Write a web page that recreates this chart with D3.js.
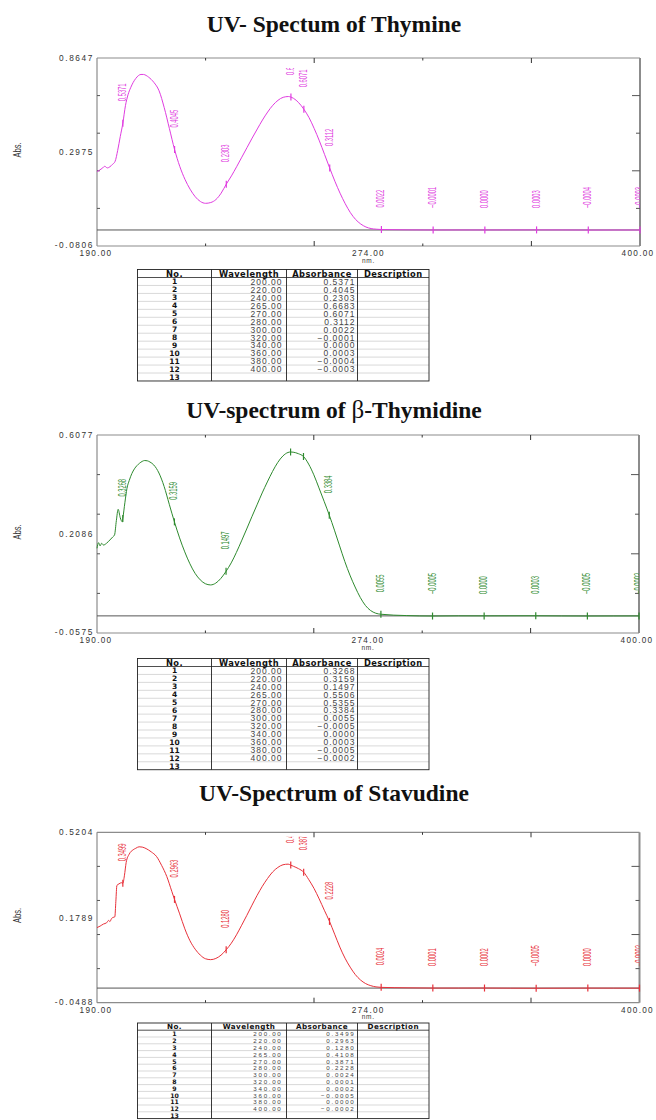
<!DOCTYPE html>
<html><head><meta charset="utf-8">
<script src="https://cdn.jsdelivr.net/npm/d3@7"></script>
<style>body{margin:0;background:#fff} svg{display:block}</style>
</head><body>
<svg id="c" width="656" height="1120"></svg>
<script>
// ---------- data ----------
const titles = ["UV- Spectum of Thymine", "UV-spectrum of ", "UV-Spectrum of Stavudine"];
const wavelengths = [200, 220, 240, 265, 270, 280, 300, 320, 340, 360, 380, 400];
const thymineAbs   = [0.5371, 0.4045, 0.2303, 0.6683, 0.6071, 0.3112, 0.0022, -0.0001, 0.0000, 0.0003, -0.0004, -0.0003];
const thymidineAbs = [0.3268, 0.3159, 0.1497, 0.5506, 0.5355, 0.3384, 0.0055, -0.0005, 0.0000, 0.0003, -0.0005, -0.0002];
const stavudineAbs = [0.3499, 0.2963, 0.1280, 0.4108, 0.3871, 0.2228, 0.0024, 0.0001, 0.0002, -0.0005, 0.0000, -0.0002];

const thymineSpectrum = [[190,0.293],[191,0.301],[192,0.31],[193,0.32],[194,0.312],[195,0.318],[196,0.33],[197,0.345],[198,0.40],[199,0.47],[200,0.5371],[201,0.625],[202,0.68],[203,0.715],[204,0.742],[205,0.762],[206,0.776],[207,0.782],[208,0.782],[209,0.777],[210,0.768],[212,0.742],[214,0.70],[216,0.615],[218,0.51],[220,0.4045],[222,0.32],[224,0.255],[226,0.205],[228,0.167],[230,0.143],[232,0.134],[234,0.138],[236,0.153],[238,0.185],[240,0.2303],[242,0.272],[244,0.318],[246,0.366],[248,0.414],[250,0.462],[252,0.508],[254,0.553],[256,0.593],[258,0.627],[260,0.652],[262,0.667],[264,0.671],[265,0.6683],[266,0.662],[268,0.64],[270,0.6071],[272,0.565],[274,0.51],[276,0.448],[278,0.38],[280,0.3112],[282,0.245],[284,0.185],[286,0.132],[288,0.087],[290,0.053],[292,0.03],[294,0.015],[296,0.007],[298,0.004],[300,0.0022],[310,0.0006],[320,-0.0001],[330,0.0001],[340,0.0],[350,0.0002],[360,0.0003],[370,0.0001],[380,-0.0004],[390,-0.0002],[400,-0.0003]];
const thymidineSpectrum = [[190,0.227],[190.6,0.246],[191.2,0.235],[191.8,0.244],[192.5,0.238],[193.7,0.244],[195,0.255],[196.2,0.266],[196.8,0.272],[197.5,0.32],[198.2,0.358],[199,0.33],[199.8,0.316],[200,0.3268],[200.8,0.38],[201.6,0.428],[202.5,0.455],[203.5,0.478],[204.5,0.494],[205.5,0.505],[206.5,0.513],[207.5,0.519],[208.5,0.522],[209.5,0.521],[210.5,0.517],[212,0.507],[214,0.48],[216,0.435],[218,0.375],[220,0.3159],[222,0.262],[224,0.215],[226,0.175],[228,0.143],[230,0.121],[232,0.108],[234,0.104],[236,0.11],[238,0.126],[240,0.1497],[242,0.178],[244,0.213],[246,0.252],[248,0.292],[250,0.333],[252,0.373],[254,0.413],[256,0.45],[258,0.485],[260,0.515],[262,0.537],[264,0.549],[265,0.5506],[266,0.55],[268,0.545],[270,0.5355],[272,0.51],[274,0.474],[276,0.43],[278,0.385],[280,0.3384],[282,0.288],[284,0.235],[286,0.183],[288,0.137],[290,0.097],[292,0.062],[294,0.035],[296,0.018],[298,0.009],[300,0.0055],[310,0.001],[320,-0.0005],[330,0.0001],[340,0.0],[350,0.0002],[360,0.0003],[370,-0.0002],[380,-0.0005],[390,-0.0003],[400,-0.0002]];
const stavudineSpectrum = [[190,0.202],[191.2,0.207],[192.5,0.214],[193.7,0.218],[194.5,0.226],[195,0.222],[195.6,0.232],[196.2,0.236],[196.9,0.238],[197.3,0.29],[197.7,0.343],[198.5,0.348],[199.4,0.352],[200,0.3499],[200.6,0.375],[201.3,0.42],[202.5,0.448],[204,0.462],[205,0.467],[206.3,0.472],[207.5,0.471],[209,0.466],[211,0.455],[213,0.44],[215,0.41],[217,0.373],[219,0.322],[220,0.2963],[222,0.248],[224,0.198],[226,0.158],[228,0.13],[230,0.11],[232,0.098],[234,0.095],[236,0.099],[238,0.11],[240,0.128],[242,0.15],[244,0.178],[246,0.21],[248,0.243],[250,0.277],[252,0.31],[254,0.34],[256,0.366],[258,0.388],[260,0.403],[262,0.412],[264,0.414],[265,0.4108],[266,0.407],[268,0.399],[270,0.3871],[272,0.362],[274,0.333],[276,0.298],[278,0.26],[280,0.2228],[282,0.18],[284,0.137],[286,0.1],[288,0.07],[290,0.045],[292,0.027],[294,0.015],[296,0.008],[298,0.004],[300,0.0024],[310,0.0009],[320,0.0001],[330,0.0001],[340,0.0002],[350,-0.0002],[360,-0.0005],[370,-0.0002],[380,0.0],[390,-0.0001],[400,-0.0002]];

const xDomain = [190, 400];
const xTickLabels = ["190.00", "274.00", "400.00"];
const xUnit = "nm.";
const yTitle = "Abs.";
const thymineYDomain = [-0.0806, 0.8647];
const thymidineYDomain = [-0.0575, 0.6077];
const stavudineYDomain = [-0.0488, 0.5204];
const thymineYLabels = ["0.8647", "0.2975", "-0.0806"];
const thymidineYLabels = ["0.6077", "0.2086", "-0.0575"];
const stavudineYLabels = ["0.5204", "0.1789", "-0.0488"];
const tableHeaders = ["No.", "Wavelength", "Absorbance", "Description"];

// ---------- layout ----------
const panels = [
  {title: titles[0], titleY: 32, top: 58, bottom: 246, left: 97, right: 640, color: "#e03ce0", clipTop: 10,
   spectrum: thymineSpectrum, abs: thymineAbs, yDomain: thymineYDomain, yLabels: thymineYLabels,
   tableTop: 269.5, headH: 8, rowH: 7.96, tFont: 8.5, ls: 1},
  {title: titles[1], beta: true, titleY: 418, top: 435, bottom: 633, left: 97, right: 639, color: "#2e8a2e", clipTop: 9,
   spectrum: thymidineSpectrum, abs: thymidineAbs, yDomain: thymidineYDomain, yLabels: thymidineYLabels,
   tableTop: 658.5, headH: 8, rowH: 7.94, tFont: 8.5, ls: 1},
  {title: titles[2], titleY: 801, top: 832.3, bottom: 1002.7, left: 97, right: 639.5, color: "#e8313a", clipTop: 4.5,
   spectrum: stavudineSpectrum, abs: stavudineAbs, yDomain: stavudineYDomain, yLabels: stavudineYLabels,
   tableTop: 1023, headH: 7.2, rowH: 6.8, tFont: 6.2, ls: 1.7}
];
const tableCols = [137.5, 211.5, 286.5, 357.5, 429];

const svg = d3.select("#c");
const fmt = d3.format(".4f");

panels.forEach((p, pi) => {
  const g = svg.append("g");
  const x = d3.scaleLinear().domain(xDomain).range([p.left, p.right]);
  const y = d3.scaleLinear().domain(p.yDomain).range([p.bottom, p.top]);

  // title
  const t = g.append("text").attr("x", 334).attr("y", p.titleY).attr("text-anchor", "middle")
    .attr("font-family", "Liberation Serif, Times New Roman, serif").attr("font-weight", "bold")
    .attr("font-size", 23.5).attr("fill", "#111");
  t.append("tspan").text(p.title);
  if (p.beta) {
    t.append("tspan").attr("font-weight", "normal").attr("font-size", 25).text("β");
    t.append("tspan").text("-Thymidine");
  }

  // frame
  const frame = "#8c8c8c";
  g.append("line").attr("x1", p.left).attr("x2", p.right).attr("y1", p.top).attr("y2", p.top).attr("stroke", frame).attr("stroke-width", 1.2);
  g.append("line").attr("x1", p.left).attr("x2", p.right).attr("y1", p.bottom).attr("y2", p.bottom).attr("stroke", frame).attr("stroke-width", 1.2);
  g.append("line").attr("x1", p.left).attr("x2", p.left).attr("y1", p.top).attr("y2", p.bottom).attr("stroke", frame).attr("stroke-width", 1.2);
  g.append("line").attr("x1", p.right).attr("x2", p.right).attr("y1", p.top).attr("y2", p.bottom).attr("stroke", frame).attr("stroke-width", 2);

  // ticks
  const step = (xDomain[1] - xDomain[0]) / 5;
  const xTicks = d3.range(1, 5).map(k => xDomain[0] + k * step);
  xTicks.forEach((v, i) => {
    const L = i % 2 ? 5 : 2.5;
    g.append("line").attr("x1", x(v)).attr("x2", x(v)).attr("y1", p.top).attr("y2", p.top + L).attr("stroke", "#333").attr("stroke-width", 1);
    g.append("line").attr("x1", x(v)).attr("x2", x(v)).attr("y1", p.bottom).attr("y2", p.bottom - L).attr("stroke", "#333").attr("stroke-width", 1);
  });
  const ystep = (p.yDomain[1] - p.yDomain[0]) / 5;
  const yTicks = d3.range(1, 5).map(k => p.yDomain[0] + k * ystep);
  yTicks.forEach((v, i) => {
    g.append("line").attr("x1", p.left).attr("x2", p.left + 3).attr("y1", y(v)).attr("y2", y(v)).attr("stroke", "#555");
    const L = i % 2 ? 8 : 4;
    g.append("line").attr("x1", p.right).attr("x2", p.right - L).attr("y1", y(v)).attr("y2", y(v)).attr("stroke", "#555");
  });

  // zero line
  g.append("line").attr("x1", p.left).attr("x2", p.right).attr("y1", y(0)).attr("y2", y(0)).attr("stroke", "#555").attr("stroke-width", 1);

  // spectrum
  const line = d3.line().x(d => x(d[0])).y(d => y(d[1])).curve(d3.curveMonotoneX);
  g.append("path").datum(p.spectrum).attr("d", line).attr("fill", "none").attr("stroke", p.color).attr("stroke-width", 1);

  // markers
  wavelengths.forEach((w, i) => {
    g.append("line").attr("x1", x(w)).attr("x2", x(w)).attr("y1", y(p.abs[i]) - 3.5).attr("y2", y(p.abs[i]) + 3.5)
      .attr("stroke", p.color).attr("stroke-width", 1.2);
  });

  // value labels (clipped)
  const cid = "clip" + pi;
  svg.append("clipPath").attr("id", cid).append("rect")
    .attr("x", p.left).attr("y", p.top + p.clipTop).attr("width", p.right - p.left).attr("height", p.bottom - p.top - p.clipTop);
  const lg = g.append("g").attr("clip-path", `url(#${cid})`);
  wavelengths.forEach((w, i) => {
    lg.append("text").attr("transform", `translate(${x(w)},${y(p.abs[i]) - 22}) rotate(-90) scale(0.58,1)`)
      .attr("text-anchor", "start").attr("dominant-baseline", "central")
      .attr("font-family", "Liberation Sans, Arial, sans-serif").attr("font-size", 10)
      .attr("fill", p.color).text(fmt(p.abs[i]));
  });

  // y labels
  const yPos = [p.top, (p.top + p.bottom) / 2, p.bottom - 1.2];
  p.yLabels.forEach((s, i) => {
    g.append("text").attr("x", p.left - 3).attr("y", yPos[i]).attr("text-anchor", "end").attr("dominant-baseline", "central")
      .attr("font-family", "Liberation Sans, Arial, sans-serif").attr("font-size", 8.3).attr("letter-spacing", 1.6)
      .attr("fill", "#333").text(s);
  });
  // x labels
  const xPos = [p.left - 1, (p.left + p.right) / 2, p.right - 2];
  xTickLabels.forEach((s, i) => {
    g.append("text").attr("x", xPos[i]).attr("y", p.bottom + 7.6).attr("text-anchor", "middle").attr("dominant-baseline", "central")
      .attr("font-family", "Liberation Sans, Arial, sans-serif").attr("font-size", 8.2).attr("letter-spacing", 1.3)
      .attr("fill", "#333").text(s);
  });
  g.append("text").attr("x", xPos[1]).attr("y", p.bottom + 14.2).attr("text-anchor", "middle").attr("dominant-baseline", "central")
    .attr("font-family", "Liberation Sans, Arial, sans-serif").attr("font-size", 6.5).attr("letter-spacing", 0.8)
    .attr("fill", "#333").text(xUnit);
  // y title
  g.append("text").attr("transform", `translate(17.5,${(p.top + p.bottom) / 2 - 2}) rotate(-90) scale(0.72,1)`)
    .attr("text-anchor", "middle").attr("dominant-baseline", "central")
    .attr("font-family", "Liberation Sans, Arial, sans-serif").attr("font-size", 10.5).attr("fill", "#333").text(yTitle);

  // table
  const tg = svg.append("g");
  const nRows = wavelengths.length + 1;
  const tTop = p.tableTop, tBot = tTop + p.headH + nRows * p.rowH;
  const rowY = r => tTop + p.headH + r * p.rowH;
  for (let r = 1; r < nRows; r++) {
    tg.append("line").attr("x1", tableCols[0]).attr("x2", tableCols[4]).attr("y1", rowY(r)).attr("y2", rowY(r)).attr("stroke", "#c8c8c8").attr("stroke-width", 0.7);
  }
  tg.append("line").attr("x1", tableCols[0]).attr("x2", tableCols[4]).attr("y1", rowY(0)).attr("y2", rowY(0)).attr("stroke", "#222").attr("stroke-width", 0.8);
  tg.append("rect").attr("x", tableCols[0]).attr("y", tTop).attr("width", tableCols[4] - tableCols[0]).attr("height", tBot - tTop)
    .attr("fill", "none").attr("stroke", "#222").attr("stroke-width", 0.9);
  tableCols.slice(1, 4).forEach(c => {
    tg.append("line").attr("x1", c).attr("x2", c).attr("y1", tTop).attr("y2", tBot).attr("stroke", "#222").attr("stroke-width", 0.9);
  });
  const hFont = Math.max(p.tFont - 0.2, 7.2);
  tableHeaders.forEach((h, i) => {
    tg.append("text").attr("x", (tableCols[i] + tableCols[i + 1]) / 2).attr("y", tTop + p.headH / 2 + 0.3)
      .attr("text-anchor", "middle").attr("dominant-baseline", "central")
      .attr("font-family", "DejaVu Sans, Verdana, sans-serif").attr("font-weight", "bold").attr("font-size", hFont)
      .attr("letter-spacing", 0.45).attr("fill", "#111").text(h);
  });
  d3.range(1, nRows + 1).forEach((n, r) => {
    const cy = rowY(r) + p.rowH / 2 + 0.3;
    tg.append("text").attr("x", (tableCols[0] + tableCols[1]) / 2).attr("y", cy).attr("text-anchor", "middle").attr("dominant-baseline", "central")
      .attr("font-family", "DejaVu Sans, Verdana, sans-serif").attr("font-weight", "bold").attr("font-size", Math.min(p.tFont, 7.5)).attr("fill", "#111").text(n);
    if (r < wavelengths.length) {
      tg.append("text").attr("x", tableCols[2] - 4).attr("y", cy).attr("text-anchor", "end").attr("dominant-baseline", "central")
        .attr("font-family", "Liberation Sans, Arial, sans-serif").attr("font-size", p.tFont).attr("letter-spacing", p.ls)
        .attr("fill", "#444").text(d3.format(".2f")(wavelengths[r]));
      tg.append("text").attr("x", tableCols[3] - 2).attr("y", cy).attr("text-anchor", "end").attr("dominant-baseline", "central")
        .attr("font-family", "Liberation Sans, Arial, sans-serif").attr("font-size", p.tFont).attr("letter-spacing", p.ls)
        .attr("fill", "#444").text(fmt(p.abs[r]));
    }
  });
});
</script>
</body></html>
